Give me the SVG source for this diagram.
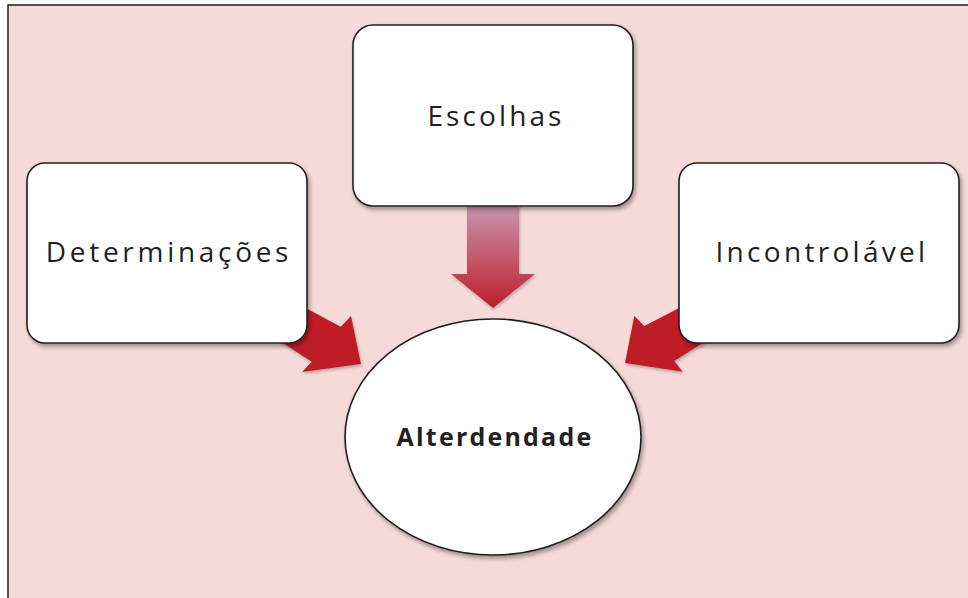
<svg xmlns="http://www.w3.org/2000/svg" width="968" height="598" viewBox="0 0 968 598">
  <defs>
    <linearGradient id="gDown" x1="0" y1="0" x2="0" y2="1">
      <stop offset="0" stop-color="#C89CB7"/>
      <stop offset="1" stop-color="#BE1E2A"/>
    </linearGradient>
    <filter id="sh" x="-10%" y="-10%" width="125%" height="125%">
      <feDropShadow dx="2" dy="3" stdDeviation="2" flood-color="#000" flood-opacity="0.35"/>
    </filter>
    <filter id="shA" x="-10%" y="-10%" width="125%" height="125%">
      <feDropShadow dx="1" dy="2" stdDeviation="1.5" flood-color="#000" flood-opacity="0.25"/>
    </filter>
  </defs>
  <style>
    .box { fill: #ffffff; stroke: #231f20; stroke-width: 1.6; }
    .lbl { font-family: "Open Sans", "DejaVu Sans", sans-serif; font-size: 28px; fill: #231f20; text-anchor: middle; }
    .bold { font-weight: bold; font-size: 25px; }
    .arrow { fill: #C01F27; }
  </style>
  <rect x="0" y="0" width="968" height="598" fill="#ffffff"/>
  <rect x="8" y="5" width="980" height="610" fill="#F5DAD8" stroke="#231f20" stroke-width="1.5"/>

  <g id="connectors">
    <path class="arrow" filter="url(#shA)" d="M270,289 L340.7,326.7 L351,316 L361,364 L302,372 L311.7,361.7 L255,325 Z"/>
    <path class="arrow" filter="url(#shA)" d="M716,289 L644.3,326 L634.3,316 L625,363 L682.7,371.7 L674.3,361 L731,325 Z"/>
    <path fill="url(#gDown)" filter="url(#shA)" d="M467,200 L519,200 L519,274 L535,274 L493,308 L451,274 L467,274 Z"/>
  </g>

  <g id="node-escolhas">
    <rect class="box" filter="url(#sh)" x="353" y="25" width="280" height="181" rx="20" ry="20"/>
    <text class="lbl" x="496" y="126" letter-spacing="3.1">Escolhas</text>
  </g>
  <g id="node-determinacoes">
    <rect class="box" filter="url(#sh)" x="27" y="163" width="280" height="180" rx="18" ry="18"/>
    <text class="lbl" x="169" y="262" letter-spacing="3.7">Determinações</text>
  </g>
  <g id="node-incontrolavel">
    <rect class="box" filter="url(#sh)" x="679" y="163" width="280" height="180" rx="18" ry="18"/>
    <text class="lbl" x="822" y="262" letter-spacing="3.3">Incontrolável</text>
  </g>
  <g id="node-alterdendade">
    <ellipse class="box" filter="url(#sh)" cx="493" cy="437" rx="148" ry="118"/>
    <text class="lbl bold" x="495" y="446" letter-spacing="2.2">Alterdendade</text>
  </g>
</svg>
